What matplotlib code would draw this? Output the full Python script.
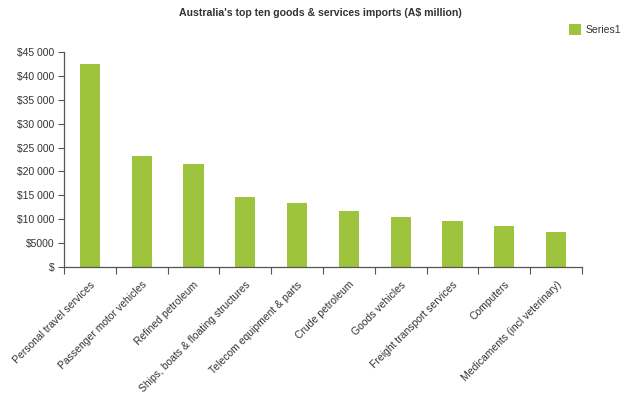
import matplotlib.pyplot as plt
from matplotlib.ticker import FuncFormatter, FixedLocator
import numpy as np

plt.rcParams['font.family'] = ['Liberation Sans', 'DejaVu Sans']

# 数据
categories = ['Personal travel services', 'Passenger motor vehicles', 'Refined petroleum',
              'Ships, boats & floating structures', 'Telecom equipment & parts',
              'Crude petroleum', 'Goods vehicles', 'Freight transport services',
              'Computers', 'Medicaments (incl veterinary)']
values = [42500, 23200, 21600, 14650, 13400, 11700, 10500, 9600, 8600, 7300]
yticks = list(range(0, 45001, 5000))

bar_color = '#9DC43C'
text_color = '#333333'
axis_color = '#555555'

fig = plt.figure(figsize=(6.24, 3.97), dpi=100)
ax = fig.add_axes([0.1026, 0.3275, 0.830, 0.5416])

x = np.arange(len(categories))
ax.bar(x, values, width=0.39, color=bar_color, label='Series1', zorder=2)

ax.set_xlim(-0.5, len(categories) - 0.5)
ax.set_ylim(0, 45000)

# y轴刻度标签
def money(v, pos):
    v = int(round(v))
    if v == 0:
        return '$'
    if v >= 10000:
        return '$' + '{:,}'.format(v).replace(',', ' ')
    return '$' + str(v)

ax.set_yticks(yticks)
ax.yaxis.set_major_formatter(FuncFormatter(money))
ax.tick_params(axis='y', length=4, width=0.8, color=axis_color, labelsize=7.5,
               labelcolor=text_color, pad=3)

# x轴: 类别标签在中心, 刻度线在分隔处
ax.set_xticks(x)
ax.set_xticklabels(categories, rotation=45, ha='right', rotation_mode='anchor')
ax.tick_params(axis='x', which='major', length=0, labelsize=7.5, labelcolor=text_color, pad=9)
ax.xaxis.set_minor_locator(FixedLocator(np.arange(-0.5, len(categories), 1.0)))
ax.tick_params(axis='x', which='minor', length=5, width=0.8, color=axis_color)

for s in ['top', 'right']:
    ax.spines[s].set_visible(False)
for s in ['left', 'bottom']:
    ax.spines[s].set_color(axis_color)
    ax.spines[s].set_linewidth(0.9)

fig.text(0.514, 0.968, "Australia's top ten goods & services imports (A$ million)",
         ha='center', va='center', fontsize=7.6, fontweight='bold', color=text_color)

ax.legend(loc='upper right', bbox_to_anchor=(1.01, 0.962), bbox_transform=fig.transFigure,
          frameon=False, fontsize=7.5, handlelength=1.15, handleheight=1.15,
          handletextpad=0.4, labelcolor=text_color)

plt.savefig('out.png', dpi=100)
